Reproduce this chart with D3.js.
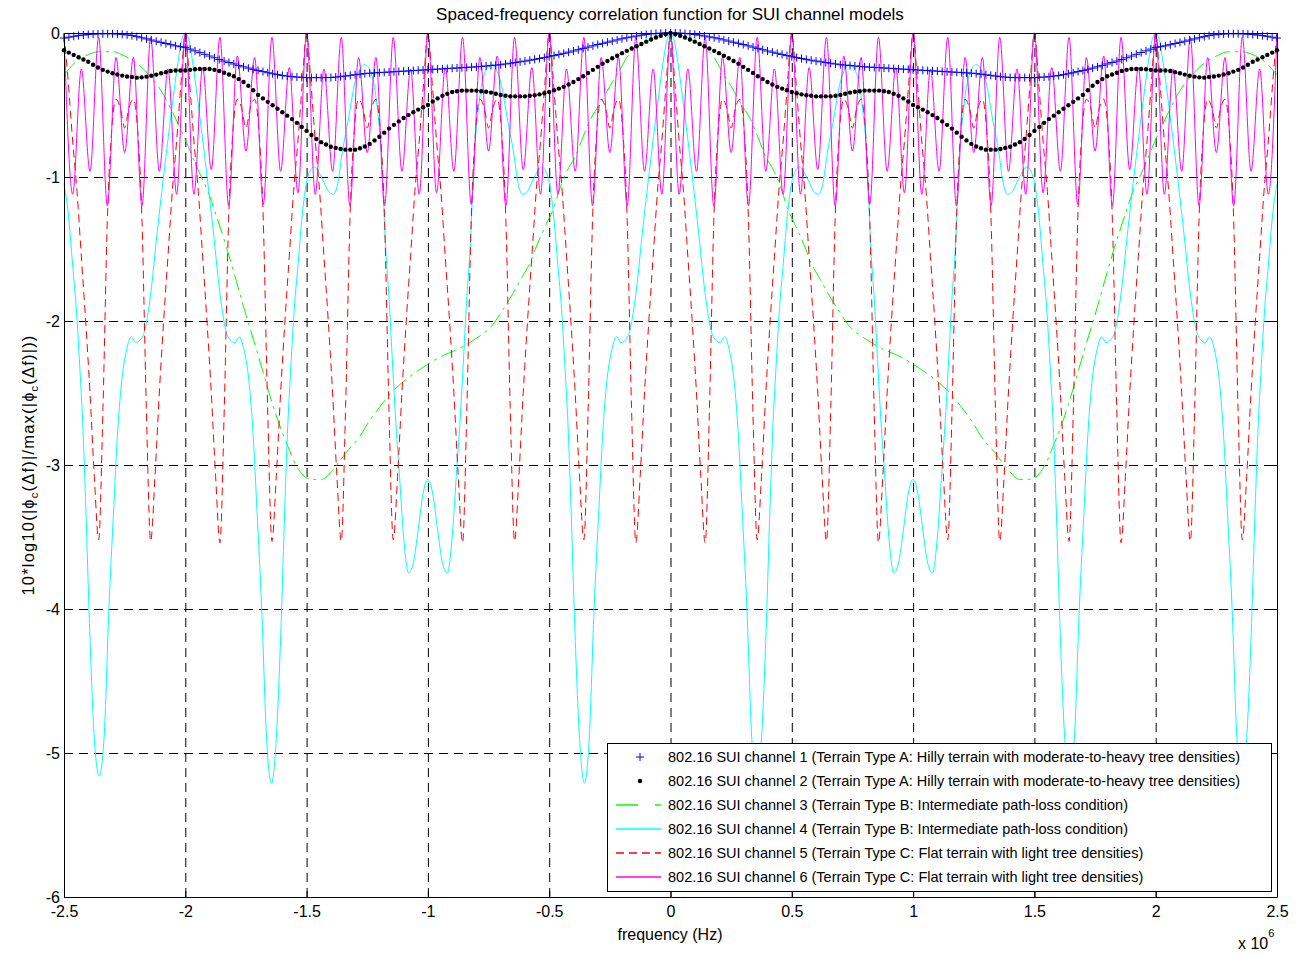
<!DOCTYPE html>
<html>
<head>
<meta charset="utf-8">
<script src="https://cdn.jsdelivr.net/npm/d3@7"></script>
<style>
body { margin: 0; background: #fff; }
text { font-family: "Liberation Sans", Arial, Helvetica, sans-serif; }
</style>
</head>
<body>
<script>
var w = 1305;
var h = 955;
var plotLeft = 64, plotRight = 1277, plotTop = 33, plotBottom = 897;

// axis ticks (frequency in units of 1e6 Hz)
var xTicks = [-2.5, -2, -1.5, -1, -0.5, 0, 0.5, 1, 1.5, 2, 2.5];
var yTicks = [-6, -5, -4, -3, -2, -1, 0];

var seriesNames = [
    "802.16 SUI channel 1 (Terrain Type A: Hilly terrain with moderate-to-heavy tree densities)",
    "802.16 SUI channel 2 (Terrain Type A: Hilly terrain with moderate-to-heavy tree densities)",
    "802.16 SUI channel 3 (Terrain Type B: Intermediate path-loss condition)",
    "802.16 SUI channel 4 (Terrain Type B: Intermediate path-loss condition)",
    "802.16 SUI channel 5 (Terrain Type C: Flat terrain with light tree densities)",
    "802.16 SUI channel 6 (Terrain Type C: Flat terrain with light tree densities)"
];

// channels 1 and 2: sampled every 0.02 from -2.5
var markerStart = -2.5, markerStep = 0.02;
var ch1Values = [
    -0.035,-0.029,-0.023,-0.018,-0.014,-0.010,-0.008,-0.006,-0.005,-0.005,
    -0.005,-0.007,-0.009,-0.013,-0.018,-0.025,-0.033,-0.041,-0.049,-0.057,
    -0.065,-0.073,-0.081,-0.089,-0.095,-0.100,-0.112,-0.124,-0.136,-0.148,
    -0.160,-0.172,-0.184,-0.195,-0.205,-0.215,-0.225,-0.235,-0.244,-0.252,
    -0.260,-0.268,-0.276,-0.283,-0.289,-0.295,-0.299,-0.303,-0.306,-0.308,
    -0.310,-0.310,-0.310,-0.310,-0.310,-0.309,-0.306,-0.303,-0.299,-0.294,
    -0.290,-0.286,-0.282,-0.279,-0.277,-0.275,-0.273,-0.271,-0.269,-0.267,
    -0.265,-0.263,-0.261,-0.259,-0.257,-0.255,-0.253,-0.251,-0.249,-0.247,
    -0.245,-0.243,-0.241,-0.239,-0.237,-0.235,-0.232,-0.229,-0.226,-0.223,
    -0.220,-0.215,-0.210,-0.205,-0.200,-0.195,-0.189,-0.183,-0.177,-0.171,
    -0.165,-0.157,-0.149,-0.141,-0.133,-0.125,-0.116,-0.107,-0.098,-0.089,
    -0.080,-0.072,-0.064,-0.056,-0.048,-0.040,-0.033,-0.027,-0.021,-0.015,
    -0.010,-0.006,-0.003,-0.001,0.000,0.000,
    0.000,-0.001,-0.003,-0.006,-0.010,
    -0.015,-0.021,-0.027,-0.033,-0.040,-0.048,-0.056,-0.064,-0.072,-0.080,
    -0.089,-0.098,-0.107,-0.116,-0.125,-0.133,-0.141,-0.149,-0.157,-0.165,
    -0.171,-0.177,-0.183,-0.189,-0.195,-0.200,-0.205,-0.210,-0.215,-0.220,
    -0.223,-0.226,-0.229,-0.232,-0.235,-0.237,-0.239,-0.241,-0.243,-0.245,
    -0.247,-0.249,-0.251,-0.253,-0.255,-0.257,-0.259,-0.261,-0.263,-0.265,
    -0.267,-0.269,-0.271,-0.273,-0.275,-0.277,-0.279,-0.282,-0.286,-0.290,
    -0.294,-0.299,-0.303,-0.306,-0.309,-0.310,-0.310,-0.310,-0.310,-0.310,
    -0.308,-0.306,-0.303,-0.299,-0.295,-0.289,-0.283,-0.276,-0.268,-0.260,
    -0.252,-0.244,-0.235,-0.225,-0.215,-0.205,-0.195,-0.184,-0.172,-0.160,
    -0.148,-0.136,-0.124,-0.112,-0.100,-0.095,-0.089,-0.081,-0.073,-0.065,
    -0.057,-0.049,-0.041,-0.033,-0.025,-0.018,-0.013,-0.009,-0.007,-0.005,
    -0.005,-0.005,-0.006,-0.008,-0.010,-0.014,-0.018,-0.023,-0.029,-0.035
];
var ch2Values = [
    -0.120,-0.136,-0.152,-0.168,-0.184,-0.200,-0.220,-0.240,-0.256,-0.268,
    -0.280,-0.288,-0.296,-0.302,-0.306,-0.310,-0.308,-0.303,-0.297,-0.289,
    -0.280,-0.272,-0.264,-0.260,-0.260,-0.260,-0.256,-0.252,-0.250,-0.250,
    -0.250,-0.256,-0.264,-0.276,-0.288,-0.300,-0.320,-0.340,-0.366,-0.398,
    -0.430,-0.454,-0.478,-0.502,-0.526,-0.550,-0.574,-0.598,-0.624,-0.652,
    -0.680,-0.708,-0.736,-0.758,-0.774,-0.790,-0.798,-0.806,-0.810,-0.810,
    -0.810,-0.800,-0.788,-0.770,-0.746,-0.720,-0.692,-0.664,-0.638,-0.614,
    -0.590,-0.570,-0.550,-0.532,-0.516,-0.500,-0.476,-0.454,-0.436,-0.422,
    -0.410,-0.404,-0.400,-0.400,-0.400,-0.400,-0.404,-0.408,-0.414,-0.422,
    -0.430,-0.436,-0.440,-0.440,-0.440,-0.440,-0.436,-0.432,-0.426,-0.418,
    -0.410,-0.398,-0.386,-0.374,-0.358,-0.340,-0.320,-0.300,-0.278,-0.256,
    -0.235,-0.214,-0.194,-0.175,-0.158,-0.140,-0.124,-0.108,-0.092,-0.076,
    -0.060,-0.045,-0.031,-0.019,-0.008,0.000,
    -0.008,-0.019,-0.031,-0.045,-0.060,
    -0.076,-0.092,-0.108,-0.124,-0.140,-0.158,-0.175,-0.194,-0.214,-0.235,
    -0.256,-0.278,-0.300,-0.320,-0.340,-0.358,-0.374,-0.386,-0.398,-0.410,
    -0.418,-0.426,-0.432,-0.436,-0.440,-0.440,-0.440,-0.440,-0.436,-0.430,
    -0.422,-0.414,-0.408,-0.404,-0.400,-0.400,-0.400,-0.400,-0.404,-0.410,
    -0.422,-0.436,-0.454,-0.476,-0.500,-0.516,-0.532,-0.550,-0.570,-0.590,
    -0.614,-0.638,-0.664,-0.692,-0.720,-0.746,-0.770,-0.788,-0.800,-0.810,
    -0.810,-0.810,-0.806,-0.798,-0.790,-0.774,-0.758,-0.736,-0.708,-0.680,
    -0.652,-0.624,-0.598,-0.574,-0.550,-0.526,-0.502,-0.478,-0.454,-0.430,
    -0.398,-0.366,-0.340,-0.320,-0.300,-0.288,-0.276,-0.264,-0.256,-0.250,
    -0.250,-0.250,-0.252,-0.256,-0.260,-0.260,-0.260,-0.264,-0.272,-0.280,
    -0.289,-0.297,-0.303,-0.308,-0.310,-0.306,-0.302,-0.296,-0.288,-0.280,
    -0.268,-0.256,-0.240,-0.220,-0.200,-0.184,-0.168,-0.152,-0.136,-0.120
];

// channel 3: [frequency, value]
var ch3Points = [
    [-2.5,-0.29],[-2.45,-0.2],[-2.4,-0.15],[-2.35,-0.13],[-2.3,-0.13],[-2.25,-0.16],[-2.2,-0.21],
    [-2.15,-0.29],[-2.1,-0.4],[-2.05,-0.56],[-2.0,-0.74],[-1.95,-0.94],[-1.9,-1.13],[-1.87,-1.28],
    [-1.83,-1.49],[-1.79,-1.72],[-1.76,-1.9],[-1.71,-2.18],[-1.67,-2.41],[-1.64,-2.58],[-1.61,-2.73],
    [-1.57,-2.9],[-1.55,-2.98],[-1.52,-3.06],[-1.5,-3.09],[-1.47,-3.1],[-1.44,-3.1],[-1.39,-3.03],
    [-1.34,-2.92],[-1.28,-2.8],[-1.24,-2.69],[-1.2,-2.6],[-1.14,-2.48],[-1.07,-2.38],[-1.0,-2.3],
    [-0.95,-2.25],[-0.87,-2.19],[-0.8,-2.12],[-0.74,-2.04],[-0.69,-1.92],[-0.65,-1.81],[-0.61,-1.69],
    [-0.58,-1.6],[-0.55,-1.47],[-0.51,-1.32],[-0.48,-1.21],[-0.46,-1.1],[-0.43,-0.97],[-0.39,-0.85],
    [-0.36,-0.72],[-0.33,-0.6],[-0.29,-0.49],[-0.25,-0.37],[-0.21,-0.26],[-0.18,-0.17],[-0.14,-0.1],
    [-0.1,-0.06],[-0.05,-0.02],[0,0],
    [0.05,-0.02],[0.1,-0.06],[0.14,-0.1],[0.18,-0.17],[0.21,-0.26],[0.25,-0.37],[0.29,-0.49],
    [0.33,-0.6],[0.36,-0.72],[0.39,-0.85],[0.43,-0.97],[0.46,-1.1],[0.48,-1.21],[0.51,-1.32],
    [0.55,-1.47],[0.58,-1.6],[0.61,-1.69],[0.65,-1.81],[0.69,-1.92],[0.74,-2.04],[0.8,-2.12],
    [0.87,-2.19],[0.95,-2.25],[1.0,-2.3],[1.07,-2.38],[1.14,-2.48],[1.2,-2.6],[1.24,-2.69],
    [1.28,-2.8],[1.34,-2.92],[1.39,-3.03],[1.44,-3.1],[1.47,-3.1],[1.5,-3.09],[1.52,-3.06],
    [1.55,-2.98],[1.57,-2.9],[1.61,-2.73],[1.64,-2.58],[1.67,-2.41],[1.71,-2.18],[1.76,-1.9],
    [1.79,-1.72],[1.83,-1.49],[1.87,-1.28],[1.9,-1.13],[1.95,-0.94],[2.0,-0.74],[2.05,-0.56],
    [2.1,-0.4],[2.15,-0.29],[2.2,-0.21],[2.25,-0.16],[2.3,-0.13],[2.35,-0.13],[2.4,-0.15],
    [2.45,-0.2],[2.5,-0.29]
];

// channel 4: [frequency, value]
var ch4Points = [
    [-2.5,-1.05],[-2.484,-1.23],[-2.464,-1.62],[-2.449,-1.92],[-2.435,-2.32],[-2.421,-2.78],[-2.41,-3.3],
    [-2.395,-4.1],[-2.375,-4.9],[-2.355,-5.16],[-2.335,-4.9],[-2.315,-4.0],[-2.295,-3.3],[-2.28,-2.8],
    [-2.263,-2.43],[-2.242,-2.2],[-2.222,-2.11],[-2.205,-2.15],[-2.185,-2.13],[-2.165,-2.05],[-2.15,-1.9],
    [-2.135,-1.7],[-2.12,-1.45],[-2.105,-1.22],[-2.09,-1.0],[-2.07,-0.72],[-2.05,-0.45],[-2.03,-0.2],
    [-2.015,-0.05],[-2.0,0],
    [-1.985,-0.05],[-1.97,-0.2],[-1.95,-0.45],[-1.93,-0.72],[-1.91,-1.0],[-1.895,-1.22],[-1.88,-1.45],
    [-1.865,-1.7],[-1.85,-1.9],[-1.835,-2.05],[-1.815,-2.13],[-1.795,-2.15],[-1.778,-2.11],[-1.758,-2.2],
    [-1.737,-2.43],[-1.72,-2.8],[-1.705,-3.3],[-1.685,-4.0],[-1.665,-4.9],[-1.645,-5.21],[-1.625,-4.9],
    [-1.605,-4.1],[-1.59,-3.3],[-1.579,-2.78],[-1.565,-2.32],[-1.551,-1.92],[-1.536,-1.62],[-1.516,-1.23],
    [-1.495,-1.0],[-1.469,-0.93],[-1.433,-1.02],[-1.41,-1.1],[-1.39,-1.12],[-1.37,-1.03],[-1.355,-0.85],
    [-1.33,-0.62],[-1.3,-0.34],[-1.28,-0.25],[-1.26,-0.22],[-1.23,-0.3],[-1.21,-0.5],[-1.19,-0.88],
    [-1.174,-1.5],[-1.16,-1.85],[-1.145,-2.32],[-1.132,-2.71],[-1.12,-3.0],[-1.1,-3.5],[-1.08,-3.75],
    [-1.06,-3.68],[-1.04,-3.45],[-1.02,-3.2],
    [-1.0,-3.1],[-0.98,-3.2],[-0.96,-3.45],[-0.94,-3.68],[-0.92,-3.75],[-0.9,-3.5],[-0.88,-3.0],
    [-0.868,-2.71],[-0.855,-2.32],[-0.84,-1.85],[-0.826,-1.5],[-0.81,-0.88],[-0.79,-0.5],[-0.77,-0.3],
    [-0.74,-0.22],[-0.72,-0.25],[-0.7,-0.34],[-0.67,-0.62],[-0.645,-0.85],[-0.63,-1.03],[-0.61,-1.12],
    [-0.59,-1.1],[-0.567,-1.02],[-0.531,-0.93],[-0.505,-1.0],[-0.484,-1.23],[-0.464,-1.62],[-0.449,-1.92],
    [-0.435,-2.32],[-0.421,-2.78],[-0.41,-3.3],[-0.395,-4.1],[-0.375,-4.9],[-0.355,-5.21],[-0.335,-4.9],
    [-0.315,-4.0],[-0.295,-3.3],[-0.28,-2.8],[-0.263,-2.43],[-0.242,-2.2],[-0.222,-2.11],[-0.205,-2.15],
    [-0.185,-2.13],[-0.165,-2.05],[-0.15,-1.9],[-0.135,-1.7],[-0.12,-1.45],[-0.105,-1.22],[-0.09,-1.0],
    [-0.07,-0.72],[-0.05,-0.45],[-0.03,-0.2],[-0.015,-0.05],[0,0],
    [0.015,-0.05],[0.03,-0.2],[0.05,-0.45],[0.07,-0.72],[0.09,-1.0],[0.105,-1.22],[0.12,-1.45],
    [0.135,-1.7],[0.15,-1.9],[0.165,-2.05],[0.185,-2.13],[0.205,-2.15],[0.222,-2.11],[0.242,-2.2],
    [0.263,-2.43],[0.28,-2.8],[0.295,-3.3],[0.315,-4.0],[0.335,-4.9],[0.355,-5.21],[0.375,-4.9],
    [0.395,-4.1],[0.41,-3.3],[0.421,-2.78],[0.435,-2.32],[0.449,-1.92],[0.464,-1.62],[0.484,-1.23],
    [0.505,-1.0],[0.531,-0.93],[0.567,-1.02],[0.59,-1.1],[0.61,-1.12],[0.63,-1.03],[0.645,-0.85],
    [0.67,-0.62],[0.7,-0.34],[0.72,-0.25],[0.74,-0.22],[0.77,-0.3],[0.79,-0.5],[0.81,-0.88],
    [0.826,-1.5],[0.84,-1.85],[0.855,-2.32],[0.868,-2.71],[0.88,-3.0],[0.9,-3.5],[0.92,-3.75],
    [0.94,-3.68],[0.96,-3.45],[0.98,-3.2],[1.0,-3.1],
    [1.02,-3.2],[1.04,-3.45],[1.06,-3.68],[1.08,-3.75],[1.1,-3.5],[1.12,-3.0],[1.132,-2.71],
    [1.145,-2.32],[1.16,-1.85],[1.174,-1.5],[1.19,-0.88],[1.21,-0.5],[1.23,-0.3],[1.26,-0.22],
    [1.28,-0.25],[1.3,-0.34],[1.33,-0.62],[1.355,-0.85],[1.37,-1.03],[1.39,-1.12],[1.41,-1.1],
    [1.433,-1.02],[1.469,-0.93],[1.495,-1.0],[1.516,-1.23],[1.536,-1.62],[1.551,-1.92],[1.565,-2.32],
    [1.579,-2.78],[1.59,-3.3],[1.605,-4.1],[1.625,-4.9],[1.645,-5.21],[1.665,-4.9],[1.685,-4.0],
    [1.705,-3.3],[1.72,-2.8],[1.737,-2.43],[1.758,-2.2],[1.778,-2.11],[1.795,-2.15],[1.815,-2.13],
    [1.835,-2.05],[1.85,-1.9],[1.865,-1.7],[1.88,-1.45],[1.895,-1.22],[1.91,-1.0],[1.93,-0.72],
    [1.95,-0.45],[1.97,-0.2],[1.985,-0.05],[2.0,0],
    [2.015,-0.05],[2.03,-0.2],[2.05,-0.45],[2.07,-0.72],[2.09,-1.0],[2.105,-1.22],[2.12,-1.45],
    [2.135,-1.7],[2.15,-1.9],[2.165,-2.05],[2.185,-2.13],[2.205,-2.15],[2.222,-2.11],[2.242,-2.2],
    [2.263,-2.43],[2.28,-2.8],[2.295,-3.3],[2.315,-4.0],[2.335,-4.9],[2.355,-5.16],[2.375,-4.9],
    [2.395,-4.1],[2.41,-3.3],[2.421,-2.78],[2.435,-2.32],[2.449,-1.92],[2.464,-1.62],[2.484,-1.23],
    [2.5,-1.05]
];

// channel 5: sampled every 1/56 from -2.5
var ch5Start = -2.5, ch5Step = 1 / 56;
var ch5Values = [
    0,-0.35,-0.75,-1.1,-1.55,-2,-2.5,-3.08,-3.52,-2.6,-1.3,-0.68,-0.46,-0.52,-0.66,-0.52,-0.46,-0.68,-1.3,-2.6,-3.53,-3.08,-2.5,-2,-1.55,-1.1,-0.75,-0.35,
    0,-0.35,-0.75,-1.1,-1.55,-2,-2.5,-3.08,-3.54,-2.6,-1.3,-0.68,-0.46,-0.52,-0.66,-0.52,-0.46,-0.68,-1.3,-2.6,-3.53,-3.08,-2.5,-2,-1.55,-1.1,-0.75,-0.35,
    0,-0.35,-0.75,-1.1,-1.55,-2,-2.5,-3.08,-3.53,-2.6,-1.3,-0.68,-0.46,-0.52,-0.66,-0.52,-0.46,-0.68,-1.3,-2.6,-3.52,-3.08,-2.5,-2,-1.55,-1.1,-0.75,-0.35,
    0,-0.35,-0.75,-1.1,-1.55,-2,-2.5,-3.08,-3.54,-2.6,-1.3,-0.68,-0.46,-0.52,-0.66,-0.52,-0.46,-0.68,-1.3,-2.6,-3.53,-3.08,-2.5,-2,-1.55,-1.1,-0.75,-0.35,
    0,-0.35,-0.75,-1.1,-1.55,-2,-2.5,-3.08,-3.52,-2.6,-1.3,-0.68,-0.46,-0.52,-0.66,-0.52,-0.46,-0.68,-1.3,-2.6,-3.54,-3.08,-2.5,-2,-1.55,-1.1,-0.75,-0.35,
    0,-0.35,-0.75,-1.1,-1.55,-2,-2.5,-3.08,-3.54,-2.6,-1.3,-0.68,-0.46,-0.52,-0.66,-0.52,-0.46,-0.68,-1.3,-2.6,-3.52,-3.08,-2.5,-2,-1.55,-1.1,-0.75,-0.35,
    0,-0.35,-0.75,-1.1,-1.55,-2,-2.5,-3.08,-3.53,-2.6,-1.3,-0.68,-0.46,-0.52,-0.66,-0.52,-0.46,-0.68,-1.3,-2.6,-3.54,-3.08,-2.5,-2,-1.55,-1.1,-0.75,-0.35,
    0,-0.35,-0.75,-1.1,-1.55,-2,-2.5,-3.08,-3.52,-2.6,-1.3,-0.68,-0.46,-0.52,-0.66,-0.52,-0.46,-0.68,-1.3,-2.6,-3.53,-3.08,-2.5,-2,-1.55,-1.1,-0.75,-0.35,
    0,-0.35,-0.75,-1.1,-1.55,-2,-2.5,-3.08,-3.53,-2.6,-1.3,-0.68,-0.46,-0.52,-0.66,-0.52,-0.46,-0.68,-1.3,-2.6,-3.54,-3.08,-2.5,-2,-1.55,-1.1,-0.75,-0.35,
    0,-0.35,-0.75,-1.1,-1.55,-2,-2.5,-3.08,-3.53,-2.6,-1.3,-0.68,-0.46,-0.52,-0.66,-0.52,-0.46,-0.68,-1.3,-2.6,-3.52,-3.08,-2.5,-2,-1.55,-1.1,-0.75,-0.35,
    0
];

// channel 6: sampled every 1/28 from -2.5
var ch6Start = -2.5, ch6Step = 1 / 28;
var ch6Values = [
    0,-1.12,-0.25,-0.96,-0.03,-1.2,-0.17,-0.83,-0.17,-1.2,-0.03,-0.96,-0.25,-1.12,
    0,-1.12,-0.24,-0.95,-0.03,-1.2,-0.16,-0.82,-0.17,-1.19,-0.03,-0.96,-0.24,-1.11,
    0,-1.12,-0.25,-0.96,-0.03,-1.2,-0.17,-0.83,-0.17,-1.2,-0.03,-0.96,-0.25,-1.12,
    0,-1.11,-0.24,-0.96,-0.03,-1.19,-0.17,-0.82,-0.16,-1.2,-0.03,-0.95,-0.24,-1.12,
    0,-1.12,-0.25,-0.96,-0.03,-1.2,-0.17,-0.83,-0.17,-1.2,-0.03,-0.96,-0.25,-1.12,
    0,-1.12,-0.25,-0.96,-0.03,-1.2,-0.17,-0.83,-0.17,-1.2,-0.03,-0.96,-0.25,-1.12,
    0,-1.12,-0.24,-0.95,-0.03,-1.2,-0.16,-0.82,-0.17,-1.19,-0.03,-0.96,-0.24,-1.11,
    0,-1.12,-0.25,-0.96,-0.03,-1.2,-0.17,-0.83,-0.17,-1.2,-0.03,-0.96,-0.25,-1.12,
    0,-1.11,-0.24,-0.96,-0.03,-1.19,-0.17,-0.82,-0.16,-1.2,-0.03,-0.95,-0.24,-1.12,
    0,-1.12,-0.25,-0.96,-0.03,-1.2,-0.17,-0.83,-0.17,-1.2,-0.03,-0.96,-0.25,-1.12,
    0
];

var ch1 = ch1Values.map((v, i) => [markerStart + i * markerStep, v]);
var ch2 = ch2Values.map((v, i) => [markerStart + i * markerStep, v]);
var ch5 = ch5Values.map((v, i) => [ch5Start + i * ch5Step, v]);
var ch6 = ch6Values.map((v, i) => [ch6Start + i * ch6Step, v]);

var xScale = d3.scaleLinear()
    .domain([-2.5, 2.5])
    .range([plotLeft, plotRight]);

var yScale = d3.scaleLinear()
    .domain([-6, 0])
    .range([plotBottom, plotTop]);

var svg = d3.select("body")
    .append("svg")
    .attr("width", w)
    .attr("height", h)
    .style("display", "block");

svg.append("rect")
    .attr("width", w)
    .attr("height", h)
    .attr("fill", "#fff");

// dashed grid
var gridX = svg.append("g")
    .attr("transform", `translate(0,${plotBottom})`)
    .call(d3.axisBottom(xScale).tickValues(xTicks).tickSize(-(plotBottom - plotTop)).tickFormat(""));
var gridY = svg.append("g")
    .attr("transform", `translate(${plotLeft},0)`)
    .call(d3.axisLeft(yScale).tickValues(yTicks).tickSize(-(plotRight - plotLeft)).tickFormat(""));
[gridX, gridY].forEach(g => {
    g.select(".domain").remove();
    g.selectAll("line")
        .attr("stroke", "#000")
        .attr("stroke-dasharray", "9,6");
});

var line = d3.line()
    .x(d => xScale(d[0]))
    .y(d => yScale(d[1]))
    .curve(d3.curveMonotoneX);

svg.append("path")
    .datum(ch3Points)
    .attr("d", line)
    .attr("fill", "none")
    .attr("stroke", "#00ff00")
    .attr("stroke-width", 1)
    .attr("stroke-dasharray", "16,5,3,5");

svg.append("path")
    .datum(ch4Points)
    .attr("d", line)
    .attr("fill", "none")
    .attr("stroke", "#00ffff")
    .attr("stroke-width", 1);

svg.append("path")
    .datum(ch5)
    .attr("d", line)
    .attr("fill", "none")
    .attr("stroke", "#ff0000")
    .attr("stroke-width", 1)
    .attr("stroke-dasharray", "8,5");

svg.append("path")
    .datum(ch6)
    .attr("d", line)
    .attr("fill", "none")
    .attr("stroke", "#ff00ff")
    .attr("stroke-width", 1);

var plus = "M-4,0H4M0,-4V4";

svg.append("g")
    .selectAll("path")
    .data(ch1)
    .enter()
    .append("path")
    .attr("transform", d => `translate(${xScale(d[0])},${yScale(d[1])})`)
    .attr("d", plus)
    .attr("stroke", "#0000ff")
    .attr("stroke-width", 1)
    .attr("fill", "none");

svg.append("g")
    .selectAll("circle")
    .data(ch2)
    .enter()
    .append("circle")
    .attr("cx", d => xScale(d[0]))
    .attr("cy", d => yScale(d[1]))
    .attr("r", 2.2)
    .attr("fill", "#000");

// box and ticks
var xAxis = d3.axisBottom(xScale)
    .tickValues(xTicks)
    .tickSizeInner(-6)
    .tickSizeOuter(0)
    .tickPadding(9)
    .tickFormat(d => String(d));

var yAxis = d3.axisLeft(yScale)
    .tickValues(yTicks)
    .tickSizeInner(-6)
    .tickSizeOuter(0)
    .tickPadding(4)
    .tickFormat(d => String(d));

var axes = [
    svg.append("g").attr("transform", `translate(0,${plotBottom})`).call(xAxis),
    svg.append("g").attr("transform", `translate(${plotLeft},0)`).call(yAxis),
    svg.append("g").attr("transform", `translate(0,${plotTop})`)
        .call(d3.axisTop(xScale).tickValues(xTicks).tickSizeInner(-6).tickSizeOuter(0).tickFormat("")),
    svg.append("g").attr("transform", `translate(${plotRight},0)`)
        .call(d3.axisRight(yScale).tickValues(yTicks).tickSizeInner(-6).tickSizeOuter(0).tickFormat(""))
];
axes.forEach(g => {
    g.attr("font-size", 16).attr("font-family", null);
    g.select(".domain").attr("stroke", "#000");
    g.selectAll("line").attr("stroke", "#000");
});

// titles
svg.append("text")
    .attr("x", 670)
    .attr("y", 20)
    .attr("text-anchor", "middle")
    .attr("font-size", 17)
    .text("Spaced-frequency correlation function for SUI channel models");

svg.append("text")
    .attr("x", 670)
    .attr("y", 940)
    .attr("text-anchor", "middle")
    .attr("font-size", 16)
    .text("frequency (Hz)");

var expo = svg.append("text")
    .attr("x", 1238)
    .attr("y", 949)
    .attr("font-size", 16);
expo.append("tspan").text("x 10");
expo.append("tspan").attr("dy", -12).attr("font-size", 11).text("6");

var ylab = svg.append("text")
    .attr("transform", `translate(34,${(plotTop + plotBottom) / 2}) rotate(-90)`)
    .attr("text-anchor", "middle")
    .attr("font-size", 16.5)
    .attr("letter-spacing", 1.2);
ylab.append("tspan").text("10*log10(|\u03d5");
ylab.append("tspan").attr("dy", 4).attr("font-size", 11).text("c");
ylab.append("tspan").attr("dy", -4).text("(\u0394f)|/max(|\u03d5");
ylab.append("tspan").attr("dy", 4).attr("font-size", 11).text("c");
ylab.append("tspan").attr("dy", -4).text("(\u0394f)|))");

// legend
var legendStyles = [
    {color: "#0000ff", marker: "plus"},
    {color: "#000000", marker: "dot"},
    {color: "#00ff00", dash: "22,17"},
    {color: "#00ffff", dash: "none"},
    {color: "#ff0000", dash: "8,5"},
    {color: "#ff00ff", dash: "none"}
];

var legend = svg.append("g");
legend.append("rect")
    .attr("x", 607.5)
    .attr("y", 743.5)
    .attr("width", 664)
    .attr("height", 148)
    .attr("fill", "#fff")
    .attr("stroke", "#000");

var rows = legend.selectAll("g.row")
    .data(seriesNames)
    .enter()
    .append("g")
    .attr("class", "row")
    .attr("transform", (d, i) => `translate(0,${757 + i * 24})`);

rows.each(function (d, i) {
    var g = d3.select(this);
    var s = legendStyles[i];
    if (s.marker === "plus") {
        g.append("path").attr("transform", "translate(640,0)").attr("d", plus)
            .style("stroke", s.color).style("fill", "none");
    } else if (s.marker === "dot") {
        g.append("circle").attr("cx", 640).attr("cy", 0).attr("r", 2.2).style("fill", s.color);
    } else {
        g.append("path")
            .attr("d", "M616,0H661")
            .style("fill", "none")
            .style("stroke", s.color)
            .style("stroke-width", 1.5)
            .style("stroke-dasharray", s.dash);
    }
    g.append("text")
        .attr("x", 668)
        .attr("y", 0)
        .attr("dy", "0.35em")
        .attr("font-size", 14.5)
        .text(d);
});
</script>
</body>
</html>
